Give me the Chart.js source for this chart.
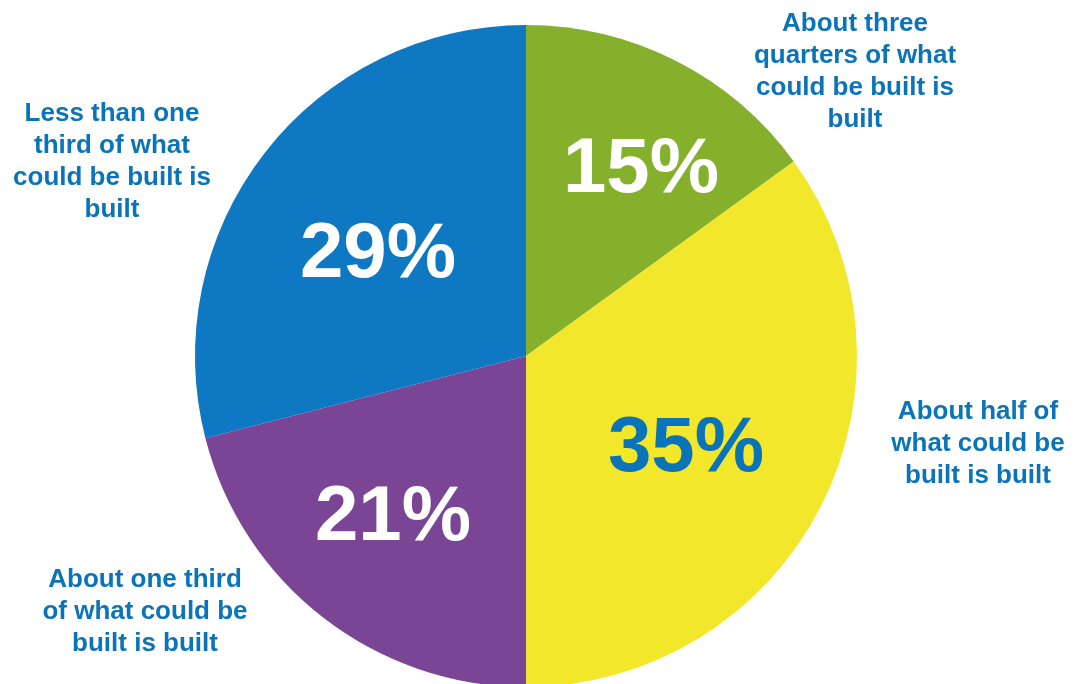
<!DOCTYPE html>
<html>
<head>
<meta charset="utf-8">
<script src="https://cdn.jsdelivr.net/npm/chart.js@4/dist/chart.umd.min.js"></script>
<style>
  html, body { margin: 0; padding: 0; background: #fff; overflow: hidden; }
  #wrap { width: 1074px; height: 700px; }
</style>
</head>
<body>
<div id="wrap"><canvas id="chartPie" width="1074" height="700"></canvas></div>
<script>
// Share of what could be built that is built
const categorias = [
  ["About three", "quarters of what", "could be built is", "built"],
  ["About half of", "what could be", "built is built"],
  ["About one third", "of what could be", "built is built"],
  ["Less than one", "third of what", "could be built is", "built"]
];
const valores = [15, 35, 21, 29];
const cores = ["#84b02b", "#f3e72b", "#7a4594", "#0e78c2"];
const corPct = ["#ffffff", "#0b74b8", "#ffffff", "#ffffff"];

// where the texts go (layout only)
const posPct = [[641, 192], [686, 471], [393, 540], [378, 277]];
const posLabel = [[855, 31], [978, 419], [145, 587], [112, 121]];
const LINE = 32;

const textos = {
  id: "textos",
  afterDraw(chart) {
    const ctx = chart.ctx;
    ctx.save();
    ctx.textAlign = "center";
    ctx.textBaseline = "alphabetic";
    valores.forEach((v, i) => {
      ctx.font = "bold 78px 'Liberation Sans', Arial, sans-serif";
      ctx.fillStyle = corPct[i];
      ctx.fillText(v + "%", posPct[i][0], posPct[i][1]);

      ctx.font = "bold 26px 'Liberation Sans', Arial, sans-serif";
      ctx.fillStyle = "#0b74b8";
      categorias[i].forEach((linha, j) => {
        ctx.fillText(linha, posLabel[i][0], posLabel[i][1] + j * LINE);
      });
    });
    ctx.restore();
  }
};

new Chart(document.getElementById("chartPie"), {
  type: "pie",
  data: {
    labels: categorias.map(c => c.join(" ")),
    datasets: [{
      data: valores,
      backgroundColor: cores,
      borderWidth: 0
    }]
  },
  options: {
    responsive: false,
    animation: false,
    layout: { padding: { left: 195, right: 217, top: 25, bottom: 13 } },
    plugins: { legend: { display: false }, tooltip: { enabled: false } }
  },
  plugins: [textos]
});
</script>
</body>
</html>
